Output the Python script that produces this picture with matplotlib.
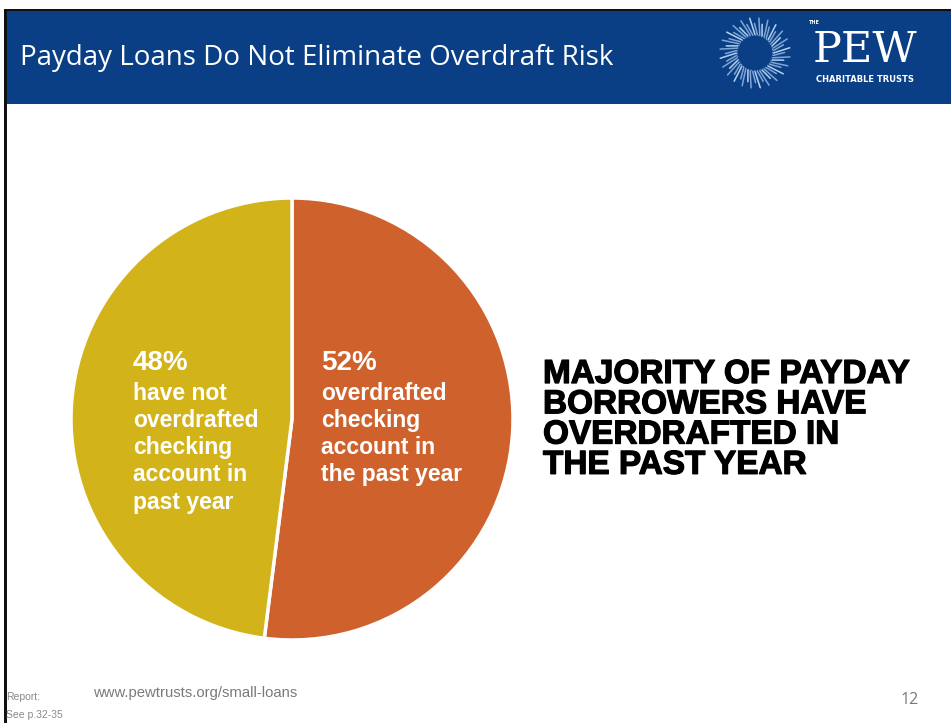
import matplotlib.pyplot as plt
import matplotlib.patheffects as pe
import numpy as np
from matplotlib.patches import Rectangle

# pie data (clockwise from 12 o'clock)
shares = [52, 48]
share_labels = ["52%", "48%"]
share_desc = ["overdrafted\nchecking\naccount in\nthe past year",
              "have not\noverdrafted\nchecking\naccount in\npast year"]
colors = ["#CF622C", "#D3B31A"]

title = "Payday Loans Do Not Eliminate Overdraft Risk"
headline = "MAJORITY OF PAYDAY\nBORROWERS HAVE\nOVERDRAFTED IN\nTHE PAST YEAR"

W, H = 951, 723
fig = plt.figure(figsize=(W / 100, H / 100), dpi=100)
fig.patch.set_facecolor("white")


def px(x, y):
    return x / W, 1 - y / H


# header bar and frame
fig.patches.append(Rectangle(px(5, 104), (W - 5) / W, 94 / H, transform=fig.transFigure,
                             facecolor="#0A3F86", edgecolor="none", zorder=0))
fig.patches.append(Rectangle(px(4, 11), (W - 4) / W, 2.5 / H, transform=fig.transFigure,
                             facecolor="#111111", edgecolor="none", zorder=1))
fig.patches.append(Rectangle(px(4, H), 2.5 / W, (H - 9) / H, transform=fig.transFigure,
                             facecolor="#111111", edgecolor="none", zorder=1))

fig.text(*px(20, 58), title, color="white", fontsize=20, family="Open Sans",
         va="center", ha="left")

# logo: sunburst
lax = fig.add_axes([px(718, 0)[0], px(0, 90)[1], 74 / W, 74 / H], zorder=3)
lax.set_xlim(-1, 1)
lax.set_ylim(-1, 1)
lax.set_aspect("equal")
lax.axis("off")
lax.patch.set_alpha(0)
n_rays = 48
for k in range(n_rays):
    a = 2 * np.pi * k / n_rays
    r0, r1 = 0.5, 0.95 if k % 2 == 0 else 0.8
    lax.plot([r0 * np.cos(a), r1 * np.cos(a + 0.15)], [r0 * np.sin(a), r1 * np.sin(a + 0.15)],
             color="#7FA6D6" if k % 3 else "#B9D0EC", lw=1.1, solid_capstyle="round")
circ = np.linspace(0, 2 * np.pi, 200)
lax.plot(0.48 * np.cos(circ), 0.48 * np.sin(circ), color="#7FA0C8", lw=0.8, ls=":")

fig.text(*px(809, 23), "THE", color="white", fontsize=3.5, family="DejaVu Sans", weight="bold",
         va="center", ha="left")
fig.text(*px(865, 50), "PEW", color="white", fontsize=31, family="DejaVu Serif",
         va="center", ha="center")
fig.text(*px(865, 80), "CHARITABLE TRUSTS", color="white", fontsize=6, family="DejaVu Sans",
         weight="bold", va="center", ha="center")

# pie chart
cx, cy, r = 292, 419, 221
x0, y0 = px(cx - r, cy + r)
ax = fig.add_axes([x0, y0, 2 * r / W, 2 * r / H])
ax.pie(shares, colors=colors, startangle=90, counterclock=False, radius=1,
       wedgeprops=dict(edgecolor="white", linewidth=2.5))
ax.set_xlim(-1, 1)
ax.set_ylim(-1, 1)
ax.set_aspect("auto")
ax.axis("off")

lab_font = "Liberation Sans"
for x, pct, desc in [(321, share_labels[0], share_desc[0]), (133, share_labels[1], share_desc[1])]:
    fig.text(*px(x, 363), pct, color="white", fontsize=20, weight="bold",
             family=lab_font, va="center", ha="left")
    fig.text(*px(x, 382), desc, color="white", fontsize=16.5, weight="bold",
             family=lab_font, va="top", ha="left", linespacing=1.23)

fig.text(*px(543, 359), headline, color="black", fontsize=24, weight="bold",
         family=lab_font, va="top", ha="left", linespacing=0.97,
         path_effects=[pe.withStroke(linewidth=0.9, foreground="black")])

# footer
fig.text(*px(6, 697), "Report:", color="#8A8A8A", fontsize=7.5, family="Liberation Sans",
         va="center", ha="left")
fig.text(*px(6, 715), "See p.32-35", color="#8A8A8A", fontsize=7.5, family="Liberation Sans",
         va="center", ha="left")
fig.text(*px(93, 693), "www.pewtrusts.org/small-loans", color="#7A7A7A", fontsize=10.7,
         family="Liberation Sans", va="center", ha="left")
fig.text(*px(919, 700), "12", color="#7A7A7A", fontsize=11.5, family="Open Sans",
         va="center", ha="right")

fig.savefig("out.png", dpi=100, facecolor="white")
